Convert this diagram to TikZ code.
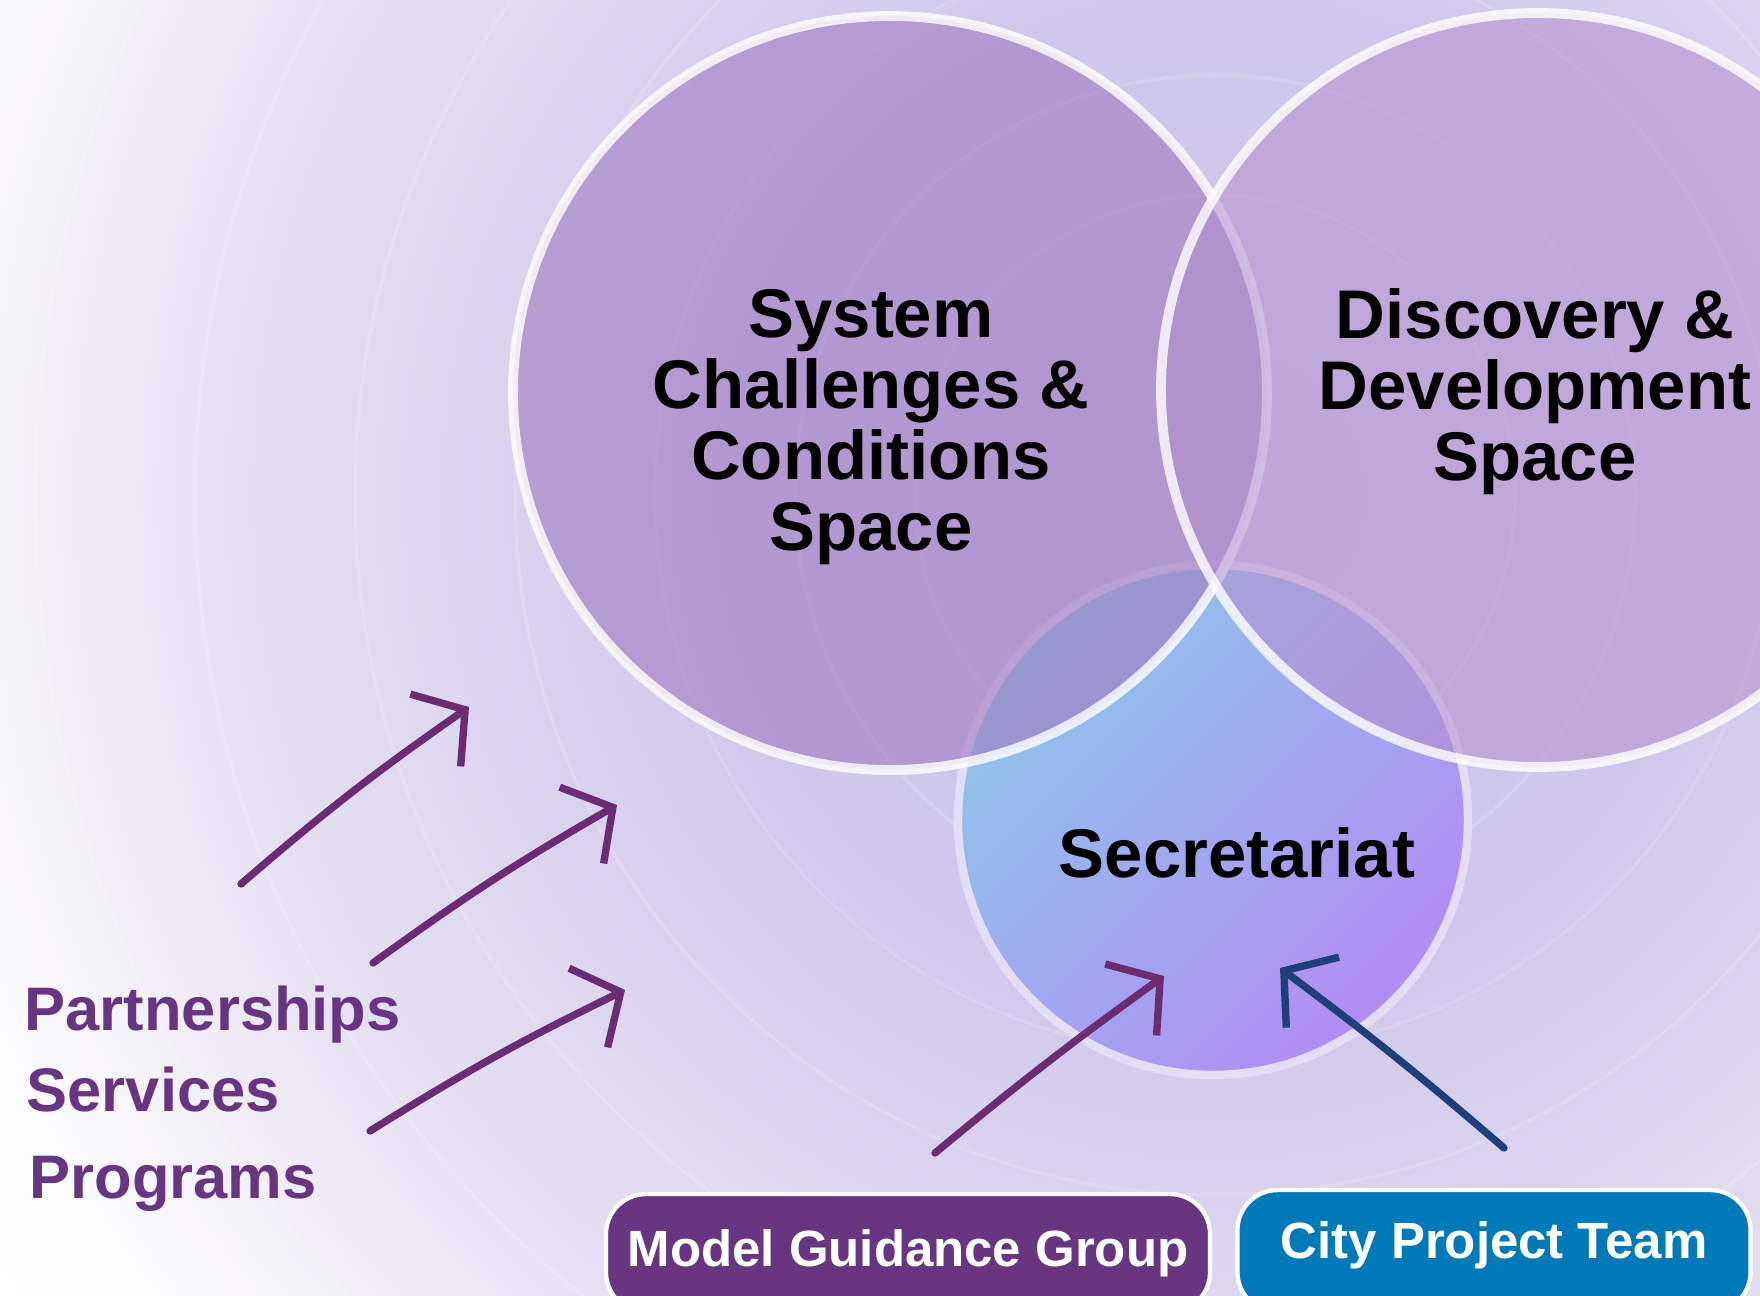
\documentclass[tikz,border=0pt]{standalone}
\usepackage{fontspec}
\setmainfont{Liberation Sans}
\usetikzlibrary{arrows.meta}

\definecolor{bgcore}{HTML}{CBC3EA}
\definecolor{bgone}{HTML}{CFC8EC}
\definecolor{bgtwo}{HTML}{D9D2EF}
\definecolor{bgthree}{HTML}{E5E0F3}
\definecolor{bgfour}{HTML}{F2EFF8}
\definecolor{bgfive}{HTML}{FCFBFE}
\definecolor{challengefill}{HTML}{A07CC0}
\definecolor{discoveryfill}{HTML}{B48FCC}
\definecolor{secrtop}{HTML}{8EC5EA}
\definecolor{secrbottom}{HTML}{B28CF3}
\definecolor{secrline}{HTML}{E4DDF6}
\definecolor{guidepurple}{HTML}{683580}
\definecolor{cityblue}{HTML}{0079B8}
\definecolor{penpurple}{HTML}{6B2C72}
\definecolor{penblue}{HTML}{1F3F7A}

\pgfdeclareradialshading{backglow}{\pgfpoint{0bp}{0bp}}{color(0bp)=(bgcore); color(8.5bp)=(bgone); color(12bp)=(bgtwo); color(17.2bp)=(bgthree); color(20.2bp)=(bgfour); color(22.9bp)=(bgfive); color(25bp)=(white); color(50bp)=(white)}

\begin{document}
\begin{tikzpicture}[x=0.1mm, y=-0.1mm]
    \tikzstyle{every node}=[font=\bfseries]
    \tikzstyle{spacecircle}=[circle, minimum size=75.4mm, inner sep=0pt, draw=white, draw opacity=0.8, line width=2.8pt, fill opacity=0.62]
    \tikzstyle{spacelabel}=[align=center, font=\fontsize{19.6}{20.2}\selectfont\bfseries]
    \tikzstyle{sidelabel}=[anchor=base west, inner sep=0pt, text=guidepurple, font=\fontsize{17.5}{20}\selectfont\bfseries]
    \tikzstyle{teambox}=[anchor=north, rounded corners=4mm, draw=white, line width=1.2pt, text=white, inner sep=0pt, font=\fontsize{14.5}{16}\selectfont\bfseries]
    \tikzstyle{pen}=[line width=2.1pt, line cap=round, -{Straight Barb[length=3.6mm, width=8.8mm]}]

    \useasboundingbox (0,0) rectangle (1760,1296);
    \clip (0,0) rectangle (1760,1296);
    \fill[white] (0,0) rectangle (1760,1296);
    \shade[shading=backglow] (1215,495) circle[radius=145mm];
    \foreach \r in {30,42,56,70,86,102,118}
        \draw[white, opacity=0.15, line width=1pt] (1215,495) circle[radius=\r mm];

    \node[circle, minimum size=51mm, inner sep=0pt, top color=secrtop, bottom color=secrbottom, shading angle=45, draw=secrline, line width=2.4pt] (secr) at (1213,820) {};
    \node[spacecircle, fill=challengefill] (chal) at (890,393) {};
    \node[spacecircle, fill=discoveryfill, fill opacity=0.55] (disc) at (1538,390) {};

    \node[spacelabel] (chaltext) at (871,427) {System\\Challenges \&\\Conditions\\Space};
    \node[spacelabel] (disctext) at (1535,392) {Discovery \&\\Development\\Space};
    \node[spacelabel] (secrtext) at (1237,853) {Secretariat};

    \node[sidelabel] (partners) at (24,1030) {Partnerships};
    \node[sidelabel] (services) at (26,1111) {Services};
    \node[sidelabel] (programs) at (29,1198) {Programs};

    \node[teambox, fill=guidepurple, minimum width=60.4mm, text height=7.2mm, text depth=4.6mm] (guide) at (908,1192) {Model Guidance Group};
    \node[teambox, fill=cityblue, minimum width=51.3mm, text height=6.8mm, text depth=5.4mm] (city) at (1494,1188) {City Project Team};

    \coordinate (partnersfrom) at (241,884);
    \coordinate (partnersto) at (469,707);
    \coordinate (servicesfrom) at (373,963);
    \coordinate (servicesto) at (617,805);
    \coordinate (programsfrom) at (370,1131);
    \coordinate (programsto) at (625,990);
    \coordinate (guidefrom) at (935,1153);
    \coordinate (guideto) at (1164,976);
    \coordinate (cityfrom) at (1504,1148);
    \coordinate (cityto) at (1280,968);

    \draw[pen, penpurple] (partnersfrom) to[bend left=3] (partnersto);
    \draw[pen, penpurple] (servicesfrom) to[bend left=3] (servicesto);
    \draw[pen, penpurple] (programsfrom) to[bend left=3] (programsto);
    \draw[pen, penpurple] (guidefrom) to[bend left=2] (guideto);
    \draw[pen, penblue] (cityfrom) to[bend right=2] (cityto);
\end{tikzpicture}
\end{document}
